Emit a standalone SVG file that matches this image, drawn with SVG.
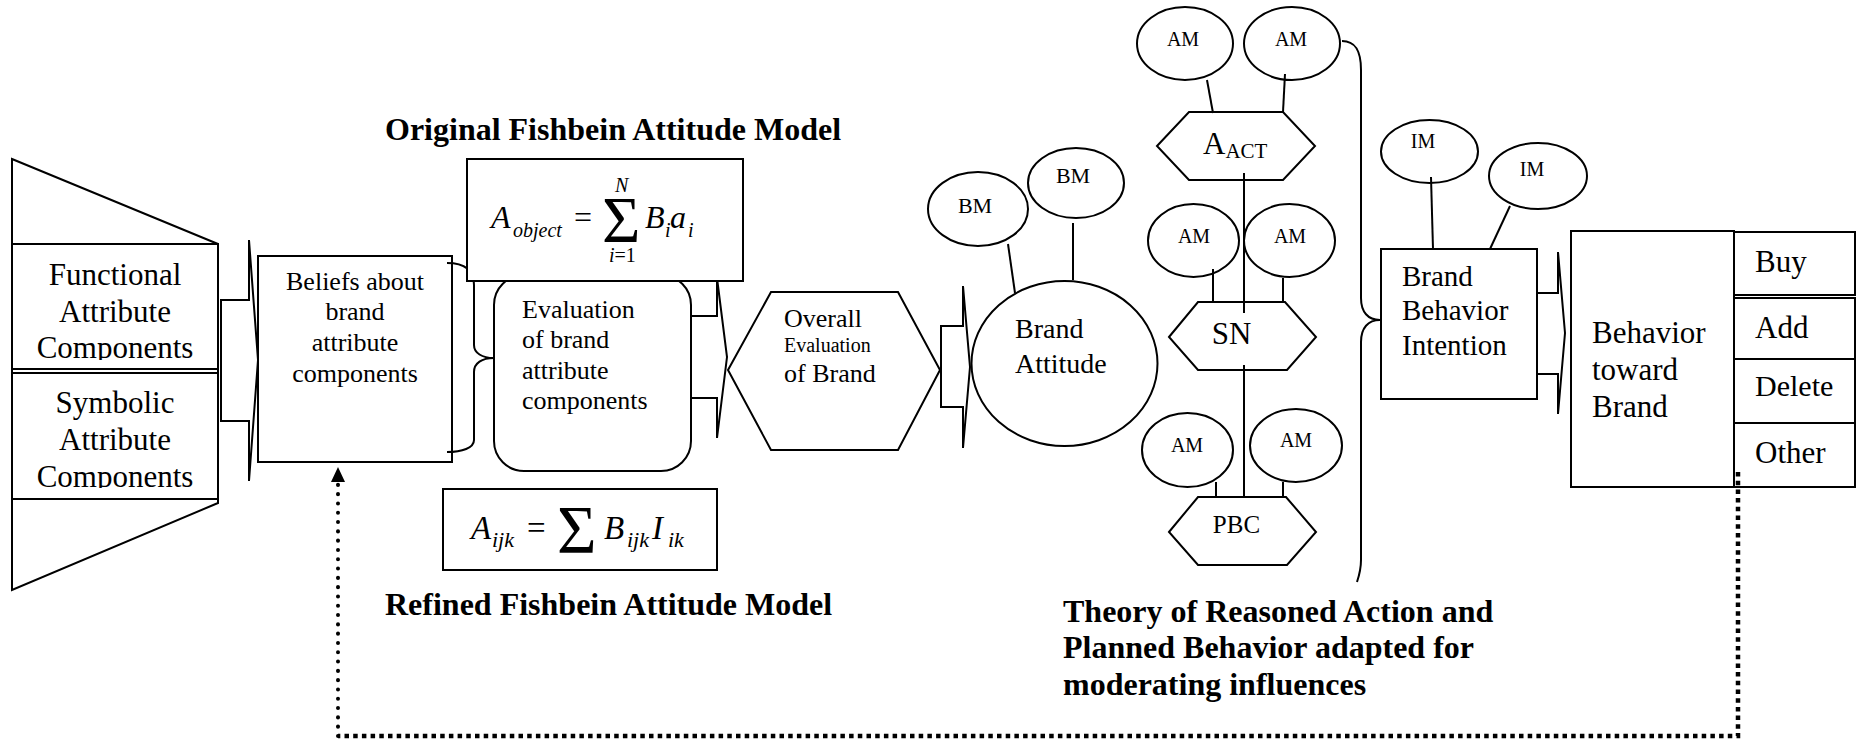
<svg xmlns="http://www.w3.org/2000/svg" width="1864" height="742" viewBox="0 0 1864 742">
<style>
.s{fill:none;stroke:#000;stroke-width:2}
.w{fill:#fff;stroke:#000;stroke-width:2}
.t{font-family:"Liberation Serif","Times New Roman",serif;fill:#000}
.b{font-weight:bold;font-size:32px}
.i{font-style:italic}
.c{text-anchor:middle}
.am{font-size:20px;text-anchor:middle}
</style>
<defs>
<marker id="ah" viewBox="0 0 15 14" refX="0" refY="7" markerUnits="userSpaceOnUse" markerWidth="15" markerHeight="14" orient="auto">
<path d="M0,0 L15,7 L0,14 z" fill="#000"/>
</marker>
<clipPath id="clipF"><rect x="12" y="244" width="206" height="116"/></clipPath>
<clipPath id="clipS"><rect x="12" y="373" width="206" height="115"/></clipPath>
</defs>
<rect width="1864" height="742" fill="#fff"/>

<g id="connectors">
<polygon class="w" points="221,300 249,300 249,240 258,360 249,481 249,421 221,421"/>
<path class="s" d="M447,263 C462,263 474,268 474,285 L474,345 C474,353 482,358 494,358 C482,358 474,363 474,372 L474,440 C474,448 462,452 447,452"/>
<polygon class="w" points="691,316 717,316 717,278 727,357 717,438 717,398 691,398"/>
<polygon class="w" points="941,326 963,326 963,286 970,367 963,448 963,407 941,407"/>
<line class="s" x1="1008" y1="244" x2="1015" y2="293"/>
<line class="s" x1="1073" y1="223" x2="1073" y2="280"/>
<line class="s" x1="1207" y1="80" x2="1213" y2="113"/>
<line class="s" x1="1285" y1="74" x2="1283" y2="112"/>
<line class="s" x1="1244" y1="173" x2="1244" y2="313"/>
<line class="s" x1="1213" y1="269" x2="1213" y2="302"/>
<line class="s" x1="1283" y1="278" x2="1283" y2="302"/>
<line class="s" x1="1244" y1="365" x2="1244" y2="496"/>
<line class="s" x1="1216" y1="482" x2="1216" y2="497"/>
<line class="s" x1="1283" y1="482" x2="1283" y2="497"/>
<path class="s" d="M1342,41 C1355,41 1361,50 1361,70 L1361,298 C1361,312 1368,320 1380,320 C1368,320 1361,328 1361,342 L1361,560 C1361,570 1359,576 1357,582"/>
<line class="s" x1="1431" y1="177" x2="1433" y2="249"/>
<line class="s" x1="1510" y1="206" x2="1490" y2="249"/>
<polygon class="w" points="1537,293 1558,293 1558,252 1565,333 1558,414 1558,374 1537,374"/>
<path d="M1738,472 L1738,736 L338,736" fill="none" stroke="#000" stroke-width="4.5" stroke-dasharray="4.5 4.2"/>
<path d="M338,736 L338,482" fill="none" stroke="#000" stroke-width="4" stroke-linecap="round" stroke-dasharray="0.1 9.2" marker-end="url(#ah)"/>
</g>

<g id="n-funnel">
<polygon class="s" points="12,159 218,244 218,503 12,590"/>
</g>
<g id="n-functional">
<rect class="w" x="12" y="244" width="206" height="125"/>
<g clip-path="url(#clipF)">
<text class="t c" font-size="31" x="115" y="285">Functional</text>
<text class="t c" font-size="31" x="115" y="322">Attribute</text>
<text class="t c" font-size="31" x="115" y="358">Components</text>
</g>
</g>
<g id="n-symbolic">
<rect class="w" x="12" y="373" width="206" height="126"/>
<g clip-path="url(#clipS)">
<text class="t c" font-size="31" x="115" y="413">Symbolic</text>
<text class="t c" font-size="31" x="115" y="450">Attribute</text>
<text class="t c" font-size="31" x="115" y="487">Components</text>
</g>
</g>

<g id="n-beliefs">
<rect class="s" x="258" y="256" width="194" height="206"/>
<text class="t c" font-size="26" x="355" y="290">Beliefs about</text>
<text class="t c" font-size="26" x="355" y="320">brand</text>
<text class="t c" font-size="26" x="355" y="351">attribute</text>
<text class="t c" font-size="26" x="355" y="382">components</text>
</g>

<g id="n-evaluation">
<rect class="s" x="494" y="275" width="197" height="196" rx="30" ry="30"/>
<text class="t" font-size="26" x="522" y="318">Evaluation</text>
<text class="t" font-size="26" x="522" y="348">of brand</text>
<text class="t" font-size="26" x="522" y="379">attribute</text>
<text class="t" font-size="26" x="522" y="409">components</text>
</g>

<g id="n-original-model">
<text class="t b" x="385" y="140">Original Fishbein Attitude Model</text>
<rect class="w" x="467" y="159" width="276" height="122"/>
<text class="t i" font-size="32" x="491" y="228">A</text>
<text class="t i" font-size="20" x="513" y="237">object</text>
<text class="t" font-size="32" x="574" y="228">=</text>
<text class="t" font-size="66" x="602" y="242">Σ</text>
<text class="t i" font-size="20" x="615" y="192">N</text>
<text class="t" font-size="20" x="609" y="262"><tspan class="i">i</tspan>=1</text>
<text class="t i" font-size="32" x="645" y="228">B</text>
<text class="t i" font-size="20" x="665" y="237">i</text>
<text class="t i" font-size="32" x="670" y="228">a</text>
<text class="t i" font-size="20" x="688" y="237">i</text>
</g>

<g id="n-refined-model">
<rect class="s" x="443" y="489" width="274" height="81"/>
<text class="t i" font-size="33" x="471" y="539">A</text>
<text class="t i" font-size="22" x="492" y="547">ijk</text>
<text class="t" font-size="33" x="527" y="539">=</text>
<text class="t" font-size="68" x="557" y="552">Σ</text>
<text class="t i" font-size="33" x="604" y="539">B</text>
<text class="t i" font-size="22" x="627" y="547">ijk</text>
<text class="t i" font-size="33" x="652" y="539">I</text>
<text class="t i" font-size="22" x="668" y="547">ik</text>
<text class="t b" x="385" y="615">Refined Fishbein Attitude Model</text>
</g>

<g id="n-overall">
<polygon class="s" points="728,370 771,292 898,292 940,370 898,450 771,450"/>
<text class="t" font-size="26" x="784" y="327">Overall</text>
<text class="t" font-size="20" x="784" y="352">Evaluation</text>
<text class="t" font-size="26" x="784" y="382">of Brand</text>
</g>

<g id="n-brand-attitude">
<ellipse class="s" cx="1064.5" cy="363.5" rx="93" ry="82.5"/>
<text class="t" font-size="28" x="1015" y="338">Brand</text>
<text class="t" font-size="28" x="1015" y="373">Attitude</text>
</g>

<g id="n-bm1">
<ellipse class="s" cx="978" cy="209" rx="50" ry="37"/>
<text class="t c" font-size="22" x="975" y="213">BM</text>
</g>
<g id="n-bm2">
<ellipse class="s" cx="1076" cy="183" rx="48" ry="35"/>
<text class="t c" font-size="22" x="1073" y="183">BM</text>
</g>

<g id="n-am1">
<ellipse class="s" cx="1185" cy="43.5" rx="48" ry="36.5"/>
<text class="t am" x="1183" y="46">AM</text>
</g>
<g id="n-am2">
<ellipse class="s" cx="1292" cy="43.5" rx="48" ry="36.5"/>
<text class="t am" x="1291" y="46">AM</text>
</g>
<g id="n-aact">
<polygon class="s" points="1157,146 1189,112 1283,112 1315,146 1283,180 1189,180"/>
<text class="t" font-size="31" x="1203" y="154">A<tspan font-size="21" dy="4">ACT</tspan></text>
</g>
<g id="n-am3">
<ellipse class="s" cx="1193.5" cy="240.5" rx="45.5" ry="36.5"/>
<text class="t am" x="1194" y="243">AM</text>
</g>
<g id="n-am4">
<ellipse class="s" cx="1289.5" cy="240.5" rx="45.5" ry="36.5"/>
<text class="t am" x="1290" y="243">AM</text>
</g>
<g id="n-sn">
<polygon class="s" points="1169,337 1198,302 1285,302 1316,337 1287,370 1198,370"/>
<text class="t c" font-size="31" x="1231.5" y="344">SN</text>
</g>
<g id="n-am5">
<ellipse class="s" cx="1187.5" cy="450" rx="45.5" ry="37"/>
<text class="t am" x="1187" y="452">AM</text>
</g>
<g id="n-am6">
<ellipse class="s" cx="1296" cy="445.5" rx="46" ry="36.5"/>
<text class="t am" x="1296" y="447">AM</text>
</g>
<g id="n-pbc">
<polygon class="s" points="1169,532 1198,497 1286,497 1316,532 1287,565 1198,565"/>
<text class="t c" font-size="25" x="1236.5" y="533">PBC</text>
</g>
<g id="n-tra-caption">
<text class="t b" x="1063" y="622">Theory of Reasoned Action and</text>
<text class="t b" x="1063" y="658">Planned Behavior adapted for</text>
<text class="t b" x="1063" y="695">moderating influences</text>
</g>

<g id="n-im1">
<ellipse class="s" cx="1429.5" cy="151.5" rx="48.5" ry="31.5"/>
<text class="t am" x="1423" y="148">IM</text>
</g>
<g id="n-im2">
<ellipse class="s" cx="1538" cy="176" rx="49" ry="33"/>
<text class="t am" x="1532" y="176">IM</text>
</g>
<g id="n-bbi">
<rect class="s" x="1381" y="249" width="156" height="150"/>
<text class="t" font-size="29" x="1402" y="286">Brand</text>
<text class="t" font-size="29" x="1402" y="320">Behavior</text>
<text class="t" font-size="29" x="1402" y="355">Intention</text>
</g>

<g id="n-behavior">
<rect class="s" x="1571" y="231" width="163" height="256"/>
<text class="t" font-size="31" x="1592" y="343">Behavior</text>
<text class="t" font-size="31" x="1592" y="380">toward</text>
<text class="t" font-size="31" x="1592" y="417">Brand</text>
</g>
<g id="n-buy">
<rect class="s" x="1734" y="232" width="121" height="63"/>
<text class="t" font-size="31" x="1755" y="272">Buy</text>
</g>
<g id="n-add">
<rect class="s" x="1734" y="298" width="121" height="61"/>
<text class="t" font-size="31" x="1755" y="338">Add</text>
</g>
<g id="n-delete">
<rect class="s" x="1734" y="359" width="121" height="64"/>
<text class="t" font-size="30" x="1755" y="396">Delete</text>
</g>
<g id="n-other">
<rect class="s" x="1734" y="423" width="121" height="64"/>
<text class="t" font-size="31" x="1755" y="463">Other</text>
</g>
</svg>
